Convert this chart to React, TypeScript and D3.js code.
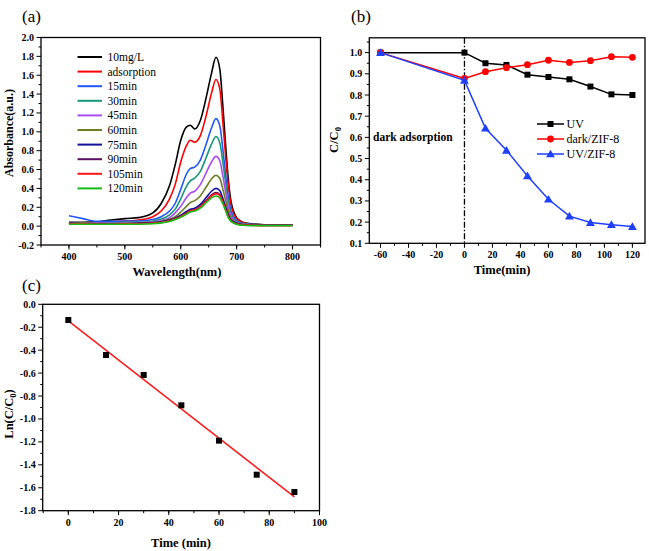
import React from "react";
import * as d3 from "d3";

// ---------- Panel (a) data ----------
const WL = [400, 425, 450, 475, 500, 525, 550, 565, 580, 590, 600, 610, 617, 625, 635, 645, 655, 663, 670, 675, 680, 685, 690, 700, 710, 725, 750, 800];
const specNames = ["10mg/L", "adsorption", "15min", "30min", "45min", "60min", "75min", "90min", "105min", "120min"];
const specColors = ["#000000", "#ff0000", "#2158f5", "#17977a", "#a94cf0", "#6c7d24", "#12129c", "#5b1060", "#ff1414", "#16bb16"];
const s10mg = [0.04, 0.04, 0.045, 0.065, 0.08, 0.09, 0.14, 0.24, 0.43, 0.65, 0.91, 1.05, 1.07, 1.03, 1.12, 1.35, 1.62, 1.79, 1.66, 1.3, 0.88, 0.5, 0.26, 0.09, 0.045, 0.025, 0.015, 0.01];
const sAds = [0.03, 0.03, 0.035, 0.045, 0.055, 0.065, 0.1, 0.16, 0.29, 0.44, 0.68, 0.85, 0.91, 0.89, 0.96, 1.16, 1.41, 1.555, 1.45, 1.13, 0.76, 0.43, 0.22, 0.08, 0.04, 0.02, 0.012, 0.01];
const s15 = [0.11, 0.08, 0.05, 0.05, 0.055, 0.055, 0.07, 0.1, 0.16, 0.24, 0.39, 0.55, 0.61, 0.625, 0.7, 0.86, 1.04, 1.14, 1.06, 0.83, 0.56, 0.31, 0.16, 0.06, 0.03, 0.02, 0.012, 0.01];
const s30 = [0.03, 0.03, 0.03, 0.035, 0.04, 0.04, 0.055, 0.075, 0.12, 0.18, 0.29, 0.42, 0.48, 0.51, 0.58, 0.72, 0.87, 0.95, 0.88, 0.69, 0.47, 0.26, 0.13, 0.05, 0.025, 0.015, 0.01, 0.01];
const s45 = [0.03, 0.03, 0.03, 0.03, 0.035, 0.035, 0.045, 0.06, 0.09, 0.14, 0.21, 0.3, 0.35, 0.37, 0.44, 0.56, 0.68, 0.74, 0.69, 0.54, 0.37, 0.21, 0.11, 0.04, 0.02, 0.015, 0.01, 0.01];
const s60 = [0.03, 0.03, 0.025, 0.025, 0.03, 0.03, 0.04, 0.05, 0.075, 0.1, 0.15, 0.21, 0.25, 0.27, 0.32, 0.41, 0.5, 0.54, 0.505, 0.4, 0.28, 0.16, 0.08, 0.035, 0.02, 0.012, 0.01, 0.01];
const s75 = [0.03, 0.025, 0.025, 0.025, 0.025, 0.03, 0.035, 0.045, 0.065, 0.085, 0.115, 0.155, 0.18, 0.19, 0.23, 0.3, 0.37, 0.4, 0.375, 0.3, 0.21, 0.12, 0.065, 0.03, 0.015, 0.01, 0.01, 0.01];
const s90 = [0.03, 0.025, 0.025, 0.025, 0.025, 0.03, 0.035, 0.04, 0.06, 0.08, 0.105, 0.14, 0.165, 0.175, 0.21, 0.27, 0.33, 0.355, 0.335, 0.27, 0.19, 0.11, 0.06, 0.025, 0.015, 0.01, 0.01, 0.01];
const s105 = [0.025, 0.025, 0.02, 0.02, 0.025, 0.025, 0.03, 0.04, 0.055, 0.075, 0.1, 0.135, 0.16, 0.17, 0.205, 0.26, 0.32, 0.345, 0.325, 0.26, 0.18, 0.1, 0.055, 0.025, 0.012, 0.01, 0.005, 0.005];
const s120 = [0.02, 0.02, 0.02, 0.02, 0.02, 0.02, 0.025, 0.035, 0.05, 0.07, 0.095, 0.125, 0.15, 0.16, 0.19, 0.245, 0.3, 0.32, 0.3, 0.24, 0.165, 0.09, 0.05, 0.02, 0.01, 0.005, 0.005, 0.005];
const spectra = [s10mg, sAds, s15, s30, s45, s60, s75, s90, s105, s120];
const aXTicks = [400, 500, 600, 700, 800];
const aYTicks = [-0.2, 0.0, 0.2, 0.4, 0.6, 0.8, 1.0, 1.2, 1.4, 1.6, 1.8, 2.0];

// ---------- Panel (b) data ----------
const tB = [-60, 0, 15, 30, 45, 60, 75, 90, 105, 120];
const bUV = [1.0, 1.0, 0.95, 0.942, 0.896, 0.885, 0.874, 0.84, 0.803, 0.8];
const bDark = [1.0, 0.878, 0.91, 0.929, 0.943, 0.964, 0.954, 0.962, 0.981, 0.978];
const bUVZIF = [1.0, 0.869, 0.643, 0.539, 0.418, 0.308, 0.228, 0.198, 0.188, 0.179];
const bNames = ["UV", "dark/ZIF-8", "UV/ZIF-8"];
const bColors = ["#000000", "#ff0000", "#1f3fff"];
const bXTicks = [-60, -40, -20, 0, 20, 40, 60, 80, 100, 120];
const bYTicks = [0.1, 0.2, 0.3, 0.4, 0.5, 0.6, 0.7, 0.8, 0.9, 1.0];

// ---------- Panel (c) data ----------
const tC = [0, 15, 30, 45, 60, 75, 90];
const lnC = [-0.137, -0.442, -0.616, -0.881, -1.189, -1.486, -1.637];
const cXTicks = [0, 20, 40, 60, 80, 100];
const cYTicks = [0.0, -0.2, -0.4, -0.6, -0.8, -1.0, -1.2, -1.4, -1.6, -1.8];

const FONT = "'Liberation Serif', 'Times New Roman', serif";

function fmt1(v: number) {
  const s = v.toFixed(1);
  return s === "-0.0" ? "0.0" : s;
}

type AxisProps = {
  x: d3.ScaleLinear<number, number>;
  y: d3.ScaleLinear<number, number>;
  xTicks: number[];
  xMinor: number[];
  yTicks: number[];
  yMinor: number[];
  xFmt: (v: number) => string;
  yFmt: (v: number) => string;
};

function Frame({ x, y, xTicks, xMinor, yTicks, yMinor, xFmt, yFmt }: AxisProps) {
  const [x0, x1] = x.range();
  const [y0, y1] = y.range(); // y0 bottom, y1 top
  return (
    <g fontFamily={FONT} fontWeight="bold" fontSize={10}>
      <rect x={x0} y={y1} width={x1 - x0} height={y0 - y1} fill="none" stroke="#000" strokeWidth={1.3} />
      {xMinor.map((v, i) => (
        <line key={"xm" + i} x1={x(v)} x2={x(v)} y1={y0} y2={y0 + 2.5} stroke="#000" strokeWidth={1} />
      ))}
      {xTicks.map((v, i) => (
        <g key={"x" + i}>
          <line x1={x(v)} x2={x(v)} y1={y0} y2={y0 + 4.5} stroke="#000" strokeWidth={1} />
          <text x={x(v)} y={y0 + 15} textAnchor="middle">{xFmt(v)}</text>
        </g>
      ))}
      {yMinor.map((v, i) => (
        <line key={"ym" + i} x1={x0 - 2.5} x2={x0} y1={y(v)} y2={y(v)} stroke="#000" strokeWidth={1} />
      ))}
      {yTicks.map((v, i) => (
        <g key={"y" + i}>
          <line x1={x0 - 4.5} x2={x0} y1={y(v)} y2={y(v)} stroke="#000" strokeWidth={1} />
          <text x={x0 - 7} y={y(v)} dy="0.35em" textAnchor="end">{yFmt(v)}</text>
        </g>
      ))}
    </g>
  );
}

function PanelA() {
  const x = d3.scaleLinear().domain([350, 850]).range([41, 320.5]);
  const y = d3.scaleLinear().domain([-0.2, 2.0]).range([245, 37.5]);
  const line = d3
    .line<number>()
    .x((_, i) => x(WL[i]))
    .y((d) => y(d))
    .curve(d3.curveMonotoneX);
  const xMinor = d3.range(350, 851, 50);
  const yMinor = d3.range(-0.1, 2.0, 0.2);
  return (
    <g>
      <text x={22} y={22} fontFamily={FONT} fontSize={17}>(a)</text>
      <Frame x={x} y={y} xTicks={aXTicks} xMinor={xMinor} yTicks={aYTicks} yMinor={yMinor} xFmt={(v) => String(v)} yFmt={fmt1} />
      {spectra.map((s, i) => (
        <path key={i} d={line(s) || ""} fill="none" stroke={specColors[i]} strokeWidth={1.6} />
      ))}
      <g fontFamily={FONT} fontSize={11.5}>
        {specNames.map((n, i) => {
          const yy = 57 + i * 14.6;
          return (
            <g key={n}>
              <line x1={77.5} x2={102} y1={yy} y2={yy} stroke={specColors[i]} strokeWidth={2} />
              <text x={107.5} y={yy} dy="0.35em">{n}</text>
            </g>
          );
        })}
      </g>
      <text x={177} y={276} textAnchor="middle" fontFamily={FONT} fontWeight="bold" fontSize={12.5}>Wavelength(nm)</text>
      <text transform="translate(13,133) rotate(-90)" textAnchor="middle" fontFamily={FONT} fontWeight="bold" fontSize={12}>Absorbance(a.u.)</text>
    </g>
  );
}

function PanelB() {
  const x = d3.scaleLinear().domain([-68, 129]).range([369.3, 645]);
  const y = d3.scaleLinear().domain([0.1, 1.07]).range([243.3, 37.8]);
  const mk = (vals: number[]) =>
    d3
      .line<number>()
      .x((_, i) => x(tB[i]))
      .y((d) => y(d))(vals) || "";
  const series = [bUV, bDark, bUVZIF];
  const xMinor = d3.range(-60, 130, 10);
  const yMinor = d3.range(0.15, 1.07, 0.1);
  const tri = d3.symbol().type(d3.symbolTriangle).size(34)() || "";
  const marker = (k: number, cx: number, cy: number, key: string) => {
    if (k === 0) return <rect key={key} x={cx - 3} y={cy - 3} width={6} height={6} fill={bColors[0]} />;
    if (k === 1) return <circle key={key} cx={cx} cy={cy} r={3.4} fill={bColors[1]} />;
    return <path key={key} d={tri} transform={`translate(${cx},${cy + 0.8})`} fill={bColors[2]} />;
  };
  return (
    <g>
      <text x={351} y={22} fontFamily={FONT} fontSize={17}>(b)</text>
      <Frame x={x} y={y} xTicks={bXTicks} xMinor={xMinor} yTicks={bYTicks} yMinor={yMinor} xFmt={(v) => String(v)} yFmt={fmt1} />
      <line x1={x(0)} x2={x(0)} y1={y.range()[1]} y2={y.range()[0]} stroke="#000" strokeWidth={1.3} strokeDasharray="6,2,1.5,2" />
      {series.map((s, k) => (
        <g key={k}>
          <path d={mk(s)} fill="none" stroke={bColors[k]} strokeWidth={1.5} />
          {s.map((v, i) => marker(k, x(tB[i]), y(v), `m${k}-${i}`))}
        </g>
      ))}
      <text x={373} y={137} dy="0.35em" fontFamily={FONT} fontWeight="bold" fontSize={11.5}>dark adsorption</text>
      <g fontFamily={FONT} fontSize={12}>
        {bNames.map((n, k) => {
          const yy = 124 + k * 15;
          return (
            <g key={n}>
              <line x1={537} x2={564} y1={yy} y2={yy} stroke={bColors[k]} strokeWidth={1.5} />
              {marker(k, 550.5, yy, "lg" + k)}
              <text x={566.5} y={yy} dy="0.35em">{n}</text>
            </g>
          );
        })}
      </g>
      <text x={502} y={274} textAnchor="middle" fontFamily={FONT} fontWeight="bold" fontSize={12.5}>Time(min)</text>
      <text transform="translate(338,140) rotate(-90)" textAnchor="middle" fontFamily={FONT} fontWeight="bold" fontSize={12.5}>
        C/C<tspan fontSize={8.5} dy={3}>0</tspan>
      </text>
    </g>
  );
}

function PanelC() {
  const x = d3.scaleLinear().domain([-10.2, 100]).range([42.7, 319.5]);
  const y = d3.scaleLinear().domain([-1.8, 0.0]).range([510.7, 304.3]);
  const mx = d3.mean(tC) as number;
  const my = d3.mean(lnC) as number;
  const slope =
    (d3.sum(tC.map((t, i) => (t - mx) * (lnC[i] - my))) as number) /
    (d3.sum(tC.map((t) => (t - mx) * (t - mx))) as number);
  const icpt = my - slope * mx;
  const xMinor = d3.range(-10, 101, 10);
  const yMinor = d3.range(-1.7, 0, 0.2);
  return (
    <g>
      <text x={22} y={291} fontFamily={FONT} fontSize={17}>(c)</text>
      <Frame x={x} y={y} xTicks={cXTicks} xMinor={xMinor} yTicks={cYTicks} yMinor={yMinor} xFmt={(v) => String(v)} yFmt={fmt1} />
      <line x1={x(0)} y1={y(icpt)} x2={x(90)} y2={y(icpt + slope * 90)} stroke="#ff1a1a" strokeWidth={1.5} />
      {tC.map((t, i) => (
        <rect key={i} x={x(t) - 3} y={y(lnC[i]) - 3} width={6} height={6} fill="#000" />
      ))}
      <text x={181} y={547} textAnchor="middle" fontFamily={FONT} fontWeight="bold" fontSize={12.5}>Time (min)</text>
      <text transform="translate(13,414) rotate(-90)" textAnchor="middle" fontFamily={FONT} fontWeight="bold" fontSize={12.5}>
        Ln(C/C<tspan fontSize={8.5} dy={3}>0</tspan><tspan dy={-3}>)</tspan>
      </text>
    </g>
  );
}

export default function App() {
  return (
    <svg width={649} height={551} style={{ position: "absolute", left: 0, top: 0, background: "#fff" }}>
      <rect x={0} y={0} width={649} height={551} fill="#fff" />
      <PanelA />
      <PanelB />
      <PanelC />
    </svg>
  );
}
